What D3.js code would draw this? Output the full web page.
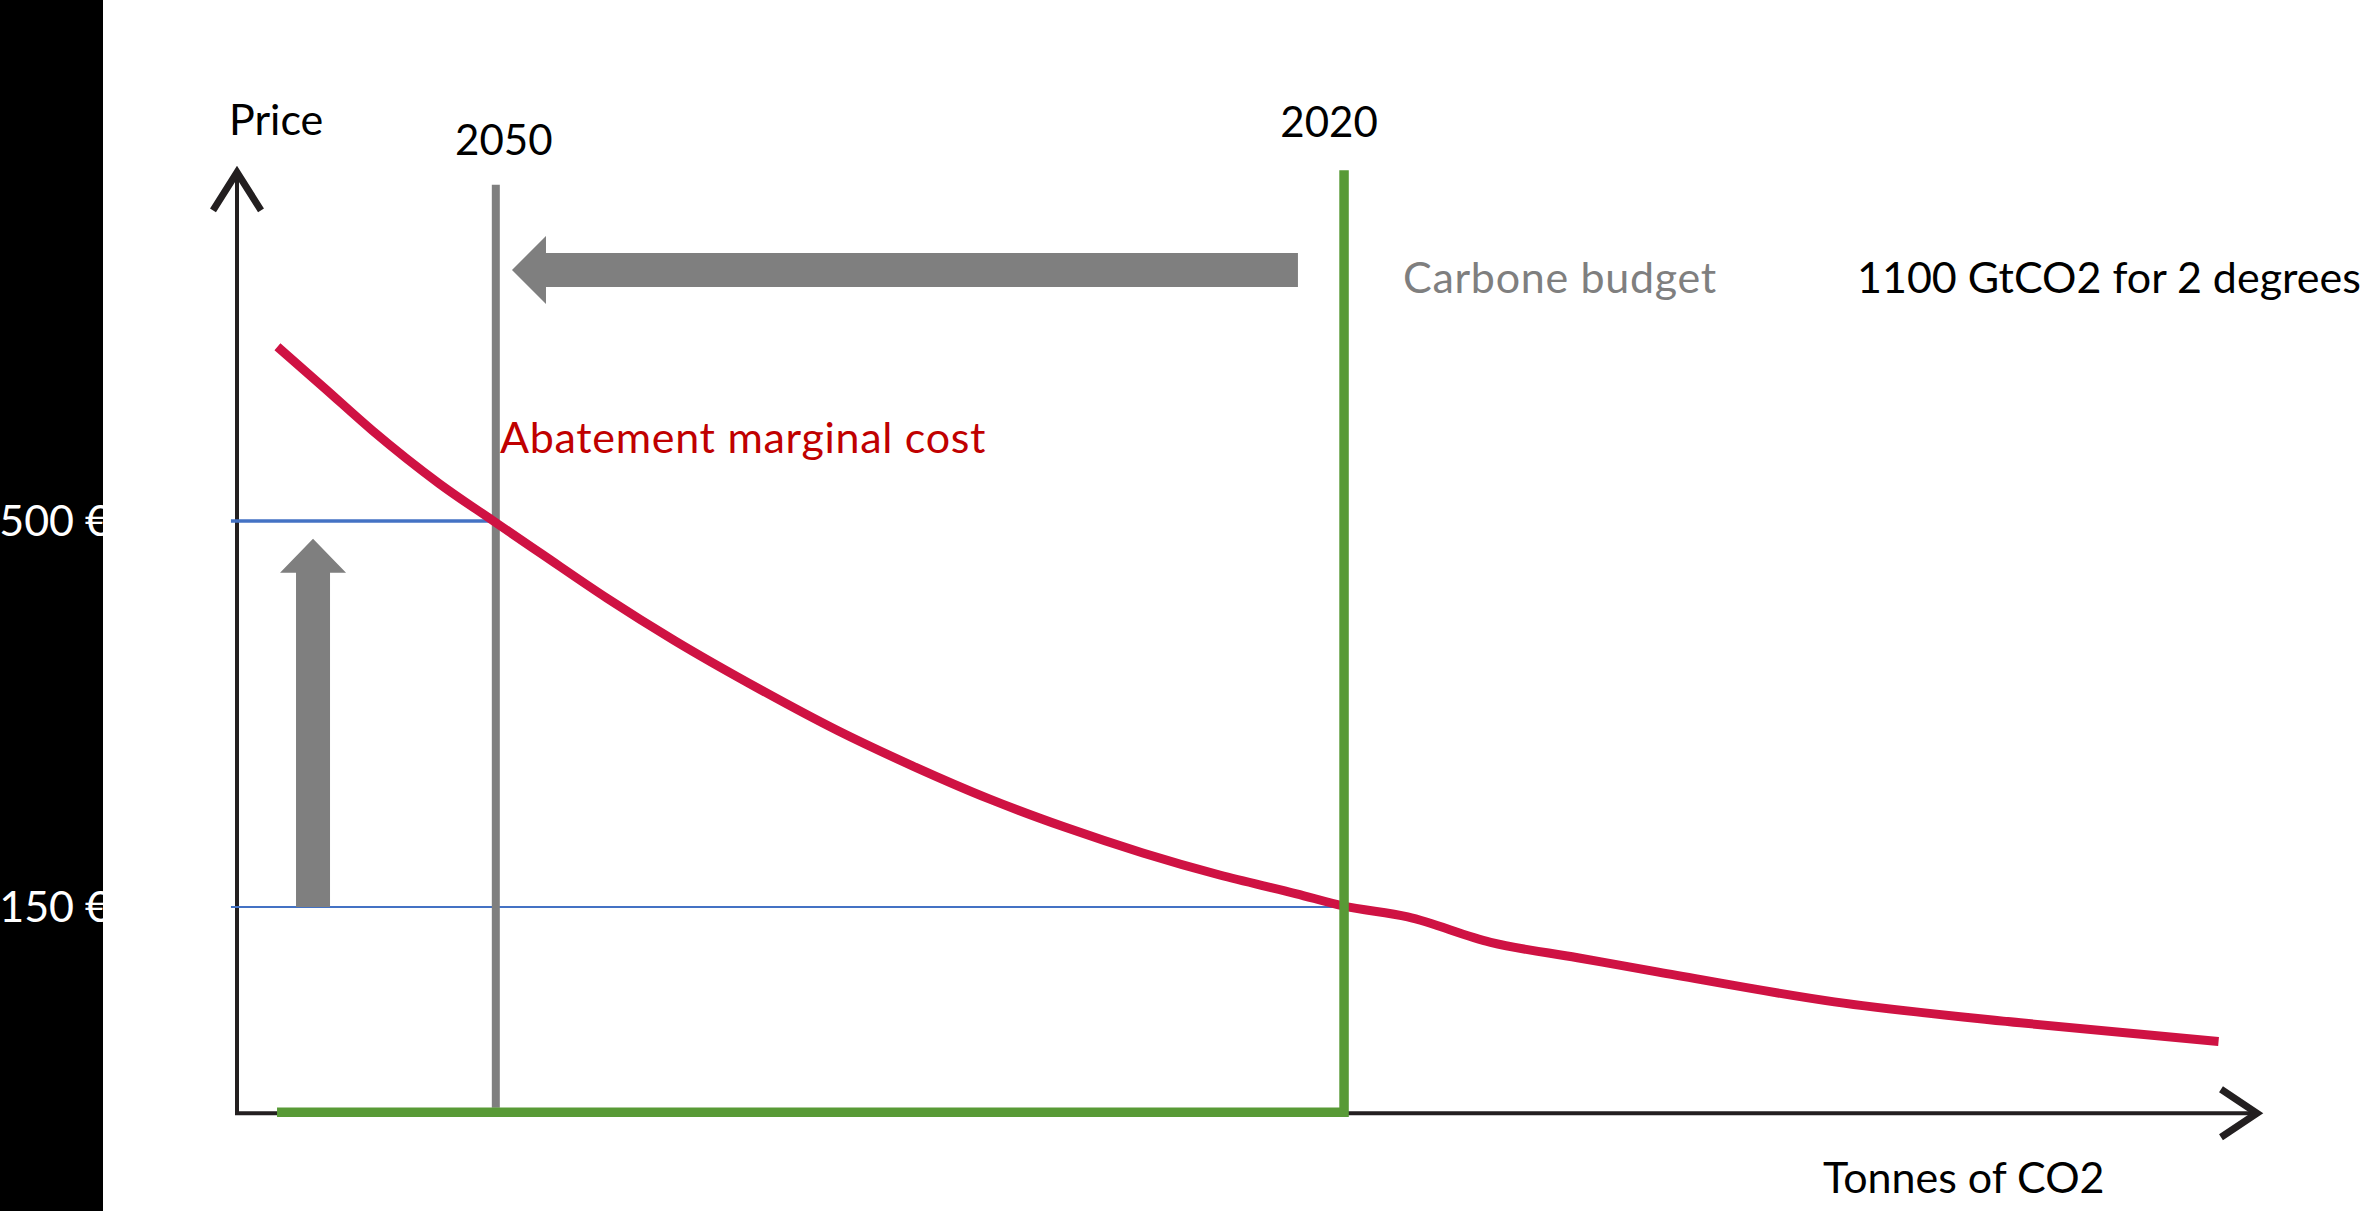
<!DOCTYPE html>
<html>
<head>
<meta charset="utf-8">
<script src="https://cdn.jsdelivr.net/npm/d3@7"></script>
<style>
  html, body { margin: 0; padding: 0; background: #fff; }
  svg { display: block; }
  text { font-family: Lato, "Open Sans", sans-serif; }
</style>
</head>
<body>
<div id="chart"></div>
<script>
const width = 2369;
const height = 1211;

// abatement marginal cost curve (x: share of tonnes, y: price in €)
const curveX = [2.0, 4.3, 6.7, 10.0, 12.6, 15.0, 18.3, 21.6, 25.9, 29.7, 33.4, 37.2, 41.0, 44.8, 48.6, 52.4, 54.7, 57.9, 62.0, 66.3, 70.3, 79.0, 88.2, 98.0];
const curvePrice = [658, 621, 582, 534, 501, 471, 430, 392, 347, 310, 278, 248, 222, 199, 179, 162, 151, 141, 118, 104, 91, 64, 45, 28];

// price levels and year markers
const priceLevels = [150, 500];
const priceLabels = ['150 €', '500 €'];
const years = ['2050', '2020'];
const yearX = [12.8, 54.75];

const colors = {
    axis: '#231f20',
    curve: '#cf1243',
    blue: '#4472c4',
    green: '#589a36',
    grey: '#7f7f7f',
    red: '#c00000'
};

const x = d3.scaleLinear().domain([0, 100]).range([237, 2259]);
const y = d3.scaleLinear().domain([150, 500]).range([907, 521]);

const yMin = -37, yMax = 818;

const svg = d3.select('#chart')
    .append('svg')
    .attr('width', width)
    .attr('height', height);

// black strip on the left
svg.append('rect')
    .attr('x', 0).attr('y', 0)
    .attr('width', 103).attr('height', height)
    .attr('fill', '#000');

// axes
const axes = svg.append('g')
    .attr('fill', 'none')
    .attr('stroke', colors.axis)
    .attr('stroke-width', 4);

axes.append('path')
    .attr('d', `M${x(0)},${y(yMax)} V${y(yMin)} H${x(100)}`);

// arrow heads (open chevrons)
axes.append('path')
    .attr('stroke-width', 7)
    .attr('d', `M${x(0) - 24},${y(yMax) + 40} L${x(0)},${y(yMax) + 2} L${x(0) + 24},${y(yMax) + 40}`);
axes.append('path')
    .attr('stroke-width', 7)
    .attr('d', `M${x(100) - 38},${y(yMin) - 24} L${x(100) - 2},${y(yMin)} L${x(100) - 38},${y(yMin) + 24}`);

// blue price lines
svg.selectAll('.price-line')
    .data(priceLevels)
    .enter()
    .append('line')
    .attr('class', 'price-line')
    .attr('x1', x(-0.3))
    .attr('x2', (d, i) => x(yearX[1 - i]))
    .attr('y1', d => y(d))
    .attr('y2', d => y(d))
    .attr('stroke', colors.blue)
    .attr('stroke-width', (d, i) => i === 0 ? 2 : 3.5);

// 2050 grey line
svg.append('line')
    .attr('x1', x(yearX[0])).attr('x2', x(yearX[0]))
    .attr('y1', y(805)).attr('y2', y(-32))
    .attr('stroke', colors.grey)
    .attr('stroke-width', 8);

// curve
const line = d3.line()
    .x(d => x(d[0]))
    .y(d => y(d[1]))
    .curve(d3.curveMonotoneX);

svg.append('path')
    .datum(curveX.map((v, i) => [v, curvePrice[i]]))
    .attr('d', line)
    .attr('fill', 'none')
    .attr('stroke', colors.curve)
    .attr('stroke-width', 9);

// 2020 green budget lines
svg.append('path')
    .attr('d', `M${x(1.98)},${y(yMin) - 1} H${x(yearX[1])} V${y(818)}`)
    .attr('fill', 'none')
    .attr('stroke', colors.green)
    .attr('stroke-width', 9.5);

// grey block arrows
const arrows = svg.append('g').attr('fill', colors.grey);
const ax0 = x(52.47), ax1 = x(13.6), ay = y(727.6);
arrows.append('path')
    .attr('d', `M${ax0},${ay - 17} H${ax1 + 34} V${ay - 34} L${ax1},${ay} L${ax1 + 34},${ay + 34} V${ay + 17} H${ax0} Z`);

const vx = x(3.76), vy0 = y(150), vy1 = y(484);
arrows.append('path')
    .attr('d', `M${vx - 17},${vy0} V${vy1 + 34} H${vx - 33} L${vx},${vy1} L${vx + 33},${vy1 + 34} H${vx + 17} V${vy0} Z`);

// texts
const label = (tx, ty, str, fill, anchor, size, spacing) => svg.append('text')
    .attr('x', tx)
    .attr('y', ty)
    .attr('fill', fill || '#000')
    .attr('text-anchor', anchor || 'start')
    .style('font-size', (size || 43) + 'px')
    .style('letter-spacing', (spacing || 0) + 'px')
    .text(str);

label(229, 135, 'Price');
label(x(yearX[0]) + 8, 155, years[0], '#000', 'middle', 42);
label(x(yearX[1]) - 15, 137, years[1], '#000', 'middle', 42);
label(1403, 293, 'Carbone budget', colors.grey, 'start', 43, 0.7);
label(1857, 293, '1100 GtCO2 for 2 degrees');
label(500, 453, 'Abatement marginal cost', colors.red, 'start', 43, 0.7);
label(1823, 1193, 'Tonnes of CO2');

priceLevels.forEach((p, i) => {
    label(110, y(p) + 15, priceLabels[i], '#fff', 'end');
});
</script>
</body>
</html>
